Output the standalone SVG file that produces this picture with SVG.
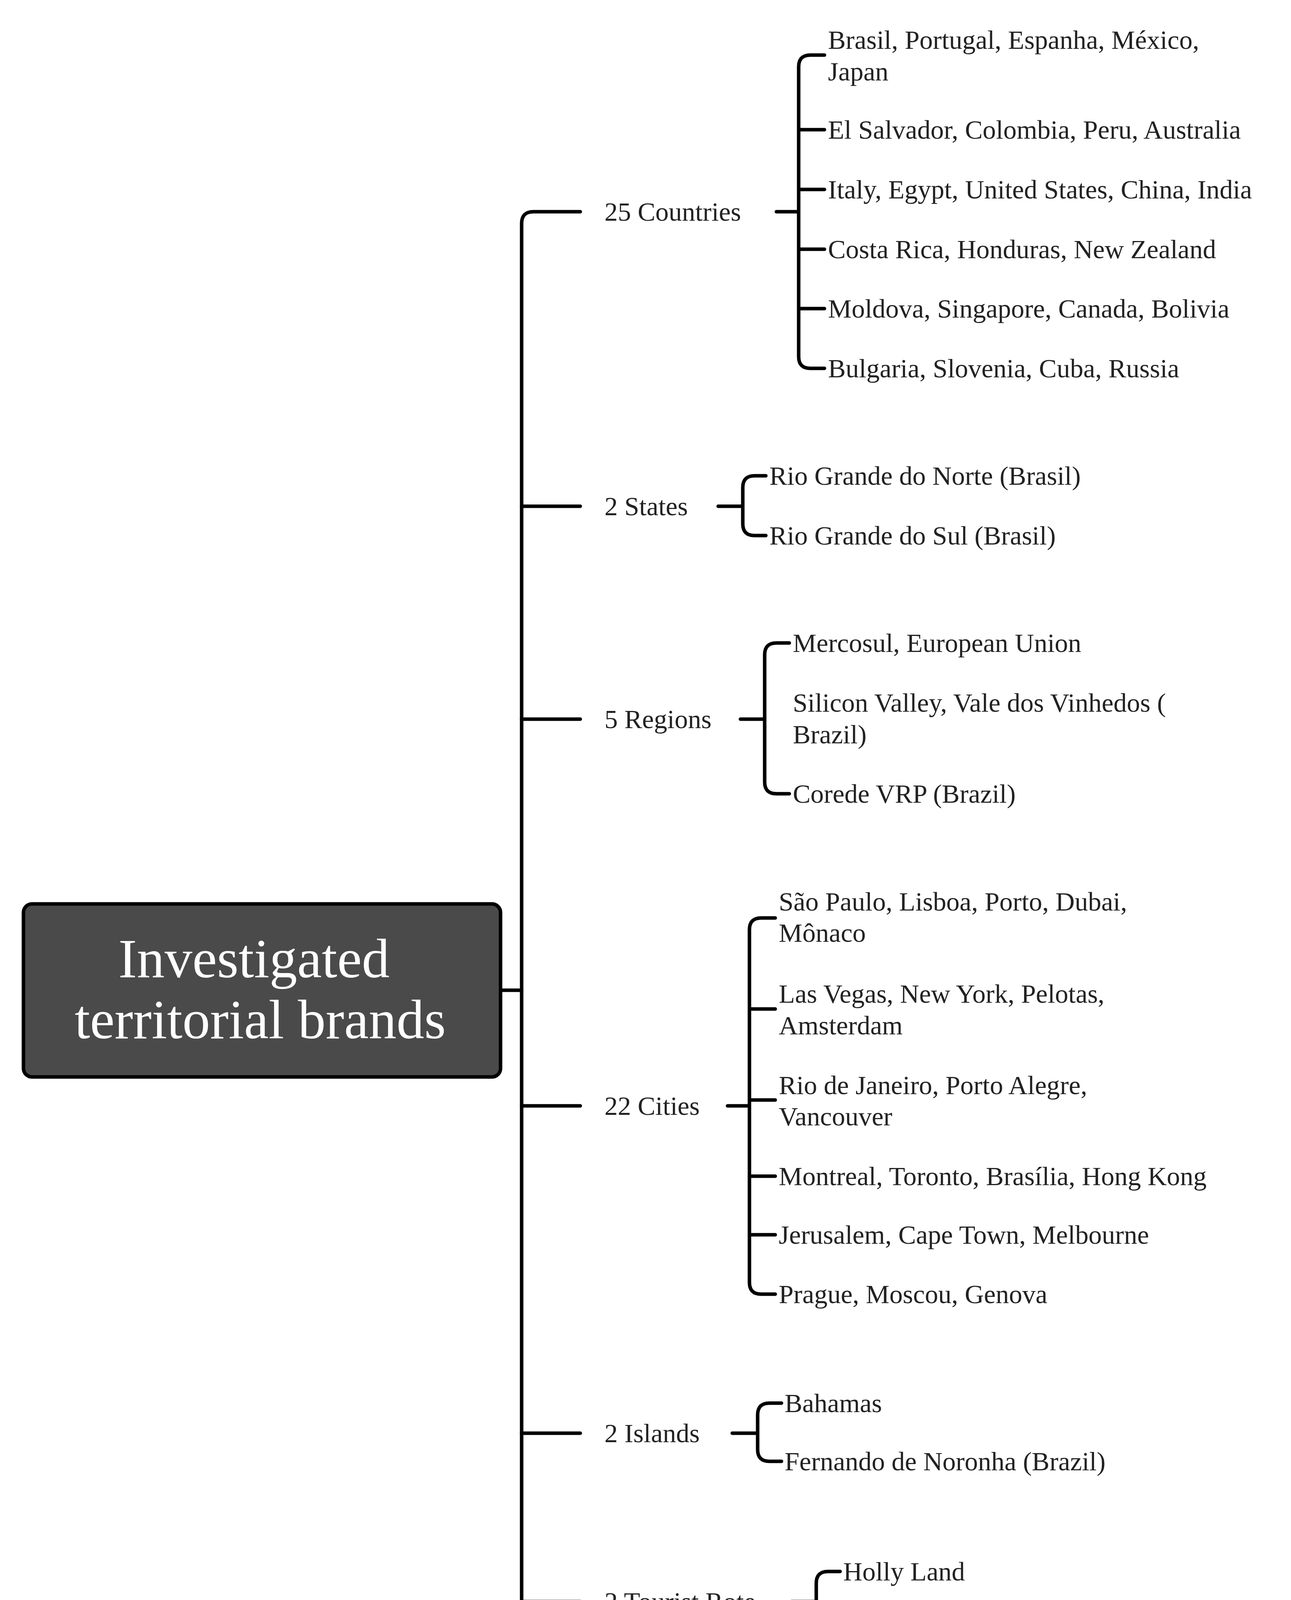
<svg xmlns="http://www.w3.org/2000/svg" width="3304" height="4688" viewBox="0 0 3304 4688">
<style>
.c{fill:none;stroke:#000;stroke-width:9;stroke-linecap:round;stroke-linejoin:round}
.t{font-family:"Liberation Serif","DejaVu Serif",serif;font-size:68px;fill:#222;dominant-baseline:central}
.r{font-family:"Liberation Serif","DejaVu Serif",serif;font-size:142px;fill:#fff;text-anchor:middle;dominant-baseline:central}
</style>
<rect width="3304" height="4688" fill="#fff"/>
<g id="connectors">
<path class="c" d="M1281 2535H1335"/>
<path class="c" d="M1485 542H1365Q1335 542 1335 572V4498Q1335 4528 1365 4528H1485"/>
<path class="c" d="M1335 1296H1485M1335 1841H1485M1335 2831H1485M1335 3669H1485M1335 4100H1485"/>
<path class="c" d="M1987 542H2044M2110 141H2074Q2044 141 2044 171V913Q2044 943 2074 943H2110M2044 332H2110M2044 485H2110M2044 638H2110M2044 790H2110"/>
<path class="c" d="M1838 1296H1901M1960 1218H1931Q1901 1218 1901 1248V1341Q1901 1371 1931 1371H1960"/>
<path class="c" d="M1895 1841H1957M2020 1646H1987Q1957 1646 1957 1676V2002Q1957 2032 1987 2032H2020"/>
<path class="c" d="M1862 2831H1918M1984 2350H1948Q1918 2350 1918 2380V3283Q1918 3313 1948 3313H1984M1918 2583H1984M1918 2816H1984M1918 3011H1984M1918 3161H1984"/>
<path class="c" d="M1874 3669H1939M2000 3592H1969Q1939 3592 1939 3622V3711Q1939 3741 1969 3741H2000"/>
<path class="c" d="M2026 4100H2089M2150 4023H2119Q2089 4023 2089 4053V4142Q2089 4172 2119 4172H2150"/>
<path class="c" d="M1862 4528H1886M1940 4451H1916Q1886 4451 1886 4481V4573Q1886 4603 1916 4603H1940"/>
</g>
<g id="root">
<rect x="60" y="2314" width="1221" height="443" rx="22" fill="#4a4a4a" stroke="#000" stroke-width="9"/>
<text class="r" x="650" y="2454">Investigated</text>
<text class="r" x="666" y="2610">territorial brands</text>
</g>
<g id="countries"><text class="t" x="1547" y="542">25 Countries</text>
<text class="t" x="2119" y="102">Brasil, Portugal, Espanha, México,</text>
<text class="t" x="2119" y="183">Japan</text>
<text class="t" x="2119" y="332">El Salvador, Colombia, Peru, Australia</text>
<text class="t" x="2119" y="485">Italy, Egypt, United States, China, India</text>
<text class="t" x="2119" y="638">Costa Rica, Honduras, New Zealand</text>
<text class="t" x="2119" y="790">Moldova, Singapore, Canada, Bolivia</text>
<text class="t" x="2119" y="943">Bulgaria, Slovenia, Cuba, Russia</text></g>
<g id="states"><text class="t" x="1547" y="1296">2 States</text>
<text class="t" x="1969" y="1218">Rio Grande do Norte (Brasil)</text>
<text class="t" x="1969" y="1371">Rio Grande do Sul (Brasil)</text></g>
<g id="regions"><text class="t" x="1547" y="1841">5 Regions</text>
<text class="t" x="2029" y="1646">Mercosul, European Union</text>
<text class="t" x="2029" y="1799">Silicon Valley, Vale dos Vinhedos (</text>
<text class="t" x="2029" y="1880">Brazil)</text>
<text class="t" x="2029" y="2032">Corede VRP (Brazil)</text></g>
<g id="cities"><text class="t" x="1547" y="2831">22 Cities</text>
<text class="t" x="1993" y="2308">São Paulo, Lisboa, Porto, Dubai,</text>
<text class="t" x="1993" y="2388">Mônaco</text>
<text class="t" x="1993" y="2544">Las Vegas, New York, Pelotas,</text>
<text class="t" x="1993" y="2625">Amsterdam</text>
<text class="t" x="1993" y="2778">Rio de Janeiro, Porto Alegre,</text>
<text class="t" x="1993" y="2858">Vancouver</text>
<text class="t" x="1993" y="3011">Montreal, Toronto, Brasília, Hong Kong</text>
<text class="t" x="1993" y="3161">Jerusalem, Cape Town, Melbourne</text>
<text class="t" x="1993" y="3313">Prague, Moscou, Genova</text></g>
<g id="islands"><text class="t" x="1547" y="3669">2 Islands</text>
<text class="t" x="2008" y="3592">Bahamas</text>
<text class="t" x="2008" y="3741">Fernando de Noronha (Brazil)</text></g>
<g id="tourist"><text class="t" x="1547" y="4100">2 Tourist Rote</text>
<text class="t" x="2158" y="4023">Holly Land</text>
<text class="t" x="2158" y="4172">Camino de Santiago</text></g>
<g id="ports"><text class="t" x="1547" y="4528">2 Ports</text>
<text class="t" x="1948" y="4451">Porto Maravilha (Brazil)</text>
<text class="t" x="1948" y="4603">Porto Cais do Mauá (Brazil)</text></g>
</svg>
